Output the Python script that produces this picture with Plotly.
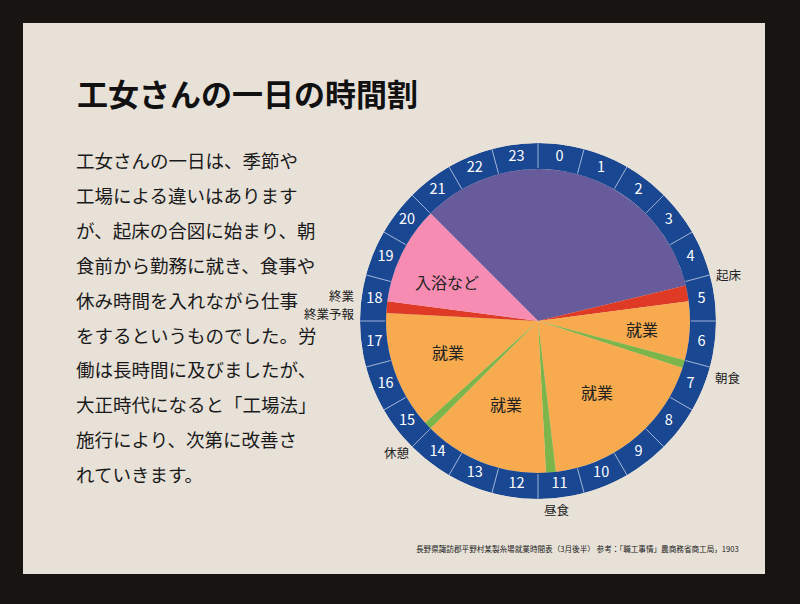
import plotly.graph_objects as go

# --- data: one day of a silk-mill girl (hours on a 24h clock, 0 at top) ---
seg_names = ["睡眠", "起床", "就業", "朝食", "就業", "昼食", "就業", "休憩", "就業", "終業", "入浴など"]
seg_start = [21.0, 5.1, 5.5, 7.0, 7.2, 11.55, 11.8, 15.0, 15.2, 18.2, 18.5]
seg_end = [29.1, 5.5, 7.0, 7.2, 11.55, 11.8, 15.0, 15.2, 18.2, 18.5, 21.0]
seg_colors = ["#685B9C", "#DE3A26", "#F7AA4E", "#7CB64A", "#F7AA4E", "#7CB64A",
              "#F7AA4E", "#7CB64A", "#F7AA4E", "#DE3A26", "#F78CB3"]
hours = list(range(24))

W, H = 800, 604
FONT = "Noto Sans CJK JP"
R_IN, R_OUT = 152, 178


def px(x):
    return x / W


def py(y):
    return 1 - y / H


fig = go.Figure()

# pie sectors
fig.add_trace(go.Barpolar(
    theta=[(s + e) / 2 * 15 for s, e in zip(seg_start, seg_end)],
    width=[(e - s) * 15 for s, e in zip(seg_start, seg_end)],
    r=[R_IN] * len(seg_names),
    marker=dict(color=seg_colors, line=dict(width=0)),
    hovertext=seg_names, hoverinfo="text",
    showlegend=False,
))

# blue hour ring
fig.add_trace(go.Barpolar(
    theta=[(h + 0.5) * 15 for h in hours],
    width=[15] * 24,
    base=[R_IN] * 24,
    r=[R_OUT - R_IN] * 24,
    marker=dict(color="#1A4792", line=dict(width=0)),
    hoverinfo="skip", showlegend=False,
))

# dividers between hours
div_r, div_t = [], []
for h in hours:
    div_r += [R_IN + 1, R_OUT, None]
    div_t += [h * 15, h * 15, None]
fig.add_trace(go.Scatterpolar(
    r=div_r, theta=div_t, mode="lines",
    line=dict(color="#9DB2D6", width=1),
    hoverinfo="skip", showlegend=False,
))

# hour numbers
fig.add_trace(go.Scatterpolar(
    r=[(R_IN + R_OUT) / 2] * 24,
    theta=[(h + 0.5) * 15 for h in hours],
    text=[str(h) for h in hours],
    mode="text",
    textfont=dict(family=FONT, size=14.5, color="white"),
    hoverinfo="skip", showlegend=False,
))

fig.update_layout(
    width=W, height=H,
    margin=dict(l=0, r=0, t=0, b=0),
    paper_bgcolor="#171411",
    plot_bgcolor="rgba(0,0,0,0)",
    polar=dict(
        domain=dict(x=[px(538 - R_OUT), px(538 + R_OUT)],
                    y=[py(321 + R_OUT), py(321 - R_OUT)]),
        bgcolor="rgba(0,0,0,0)",
        hole=0,
        barmode="overlay",
        bargap=0,
        radialaxis=dict(visible=False, range=[0, R_OUT]),
        angularaxis=dict(visible=False, rotation=90, direction="clockwise"),
    ),
)

# panel
fig.add_shape(type="rect", xref="paper", yref="paper",
              x0=px(23), x1=px(765), y0=py(574), y1=py(23),
              fillcolor="#E7E1D8", line=dict(width=0), layer="below")

# title
fig.add_annotation(x=px(75), y=py(92), xref="paper", yref="paper",
                   xanchor="left", yanchor="middle", showarrow=False,
                   text="<b>工女さんの一日の時間割</b>",
                   font=dict(family=FONT, size=31, color="#111111"))

# body text
body = ["工女さんの一日は、季節や",
        "工場による違いはあります",
        "が、起床の合図に始まり、朝",
        "食前から勤務に就き、食事や",
        "休み時間を入れながら仕事",
        "をするというものでした。労",
        "働は長時間に及びましたが、",
        "大正時代になると「工場法」",
        "施行により、次第に改善さ",
        "れていきます。"]
for i, line in enumerate(body):
    fig.add_annotation(x=px(74), y=py(160 + i * 34.9), xref="paper", yref="paper",
                       xanchor="left", yanchor="middle", showarrow=False,
                       text=line, font=dict(family=FONT, size=18.5, color="#1A1A1A"))

# labels inside the pie
inner_labels = [("入浴など", 447, 282), ("就業", 642, 329), ("就業", 448, 352),
                ("就業", 506, 404), ("就業", 597, 392)]
for t, x, y in inner_labels:
    fig.add_annotation(x=px(x), y=py(y), xref="paper", yref="paper",
                       showarrow=False, text=t, xanchor="center", yanchor="middle",
                       font=dict(family=FONT, size=16, color="#222222"))

# labels outside the ring
outer_labels = [("起床", 729, 274), ("朝食", 728, 377), ("休憩", 397, 452), ("昼食", 557, 509)]
for t, x, y in outer_labels:
    fig.add_annotation(x=px(x), y=py(y), xref="paper", yref="paper",
                       showarrow=False, text=t, xanchor="center", yanchor="middle",
                       font=dict(family=FONT, size=12.5, color="#222222"))
fig.add_annotation(x=px(357), y=py(295), xref="paper", yref="paper",
                   showarrow=False, text="終業", xanchor="right", yanchor="middle",
                   font=dict(family=FONT, size=12.5, color="#222222"))
fig.add_annotation(x=px(357), y=py(313), xref="paper", yref="paper",
                   showarrow=False, text="終業予報", xanchor="right", yanchor="middle",
                   font=dict(family=FONT, size=12.5, color="#222222"))

# source note
fig.add_annotation(x=px(741), y=py(548), xref="paper", yref="paper",
                   showarrow=False, xanchor="right", yanchor="middle",
                   text="長野県諏訪郡平野村某製糸場就業時間表（3月後半） 参考：「職工事情」農商務省商工局，1903",
                   font=dict(family=FONT, size=7.6, color="#222222"))

fig.write_html("out.html", config={"displayModeBar": False},
               post_script="document.body.style.margin='0';")
